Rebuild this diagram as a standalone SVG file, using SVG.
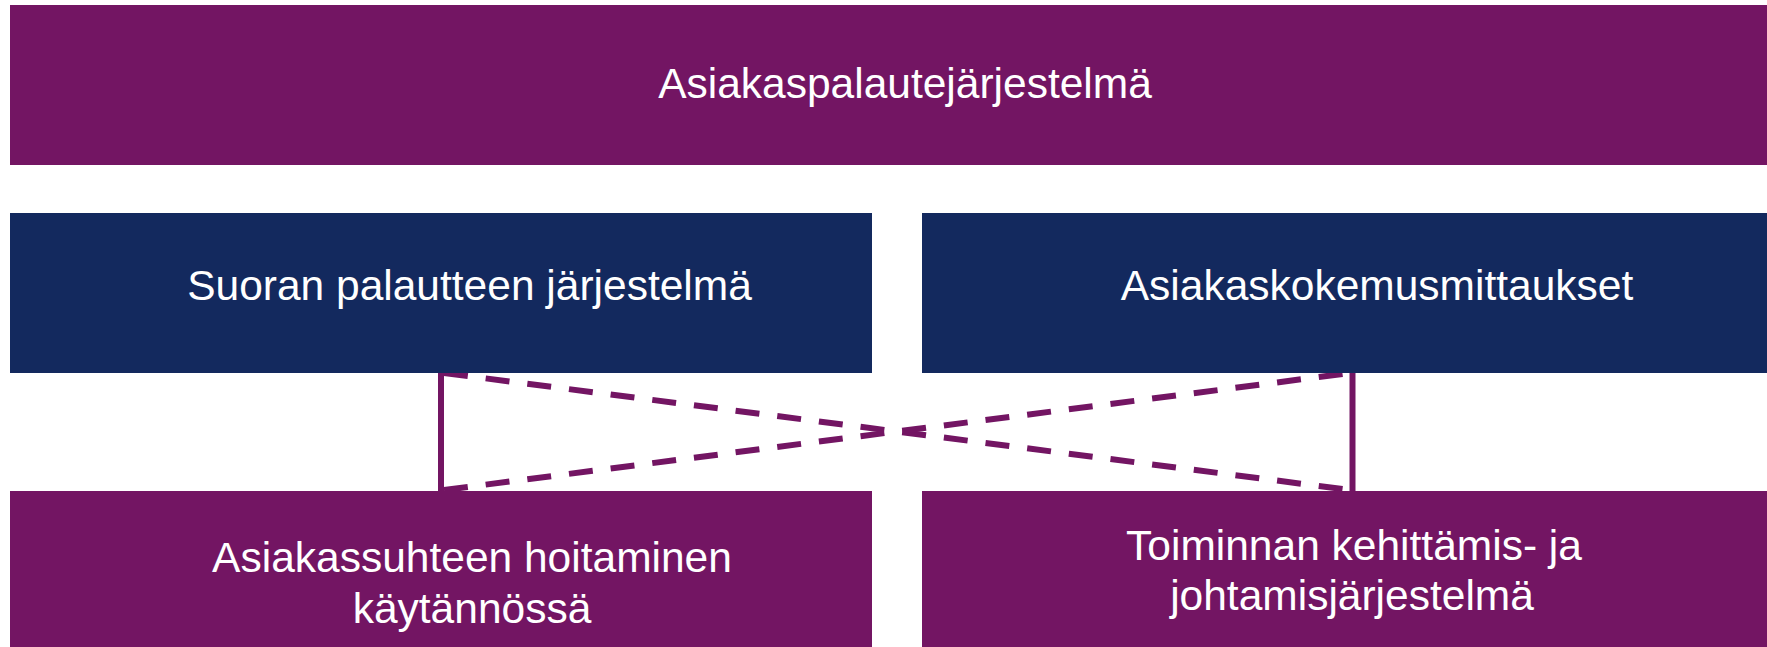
<svg xmlns="http://www.w3.org/2000/svg" width="1767" height="647" viewBox="0 0 1767 647">
<style>
.p{fill:#731563}
.n{fill:#13295E}
.t{fill:#ffffff;font-family:"Liberation Sans",Arial,sans-serif;font-size:42.5px;text-anchor:middle}
.c{stroke:#731563;stroke-width:6;fill:none}
.d{stroke-dasharray:24 18}
</style>
<rect width="1767" height="647" fill="#ffffff"/>
<g id="connectors">
<line class="c" x1="441" y1="373" x2="441" y2="491"/>
<line class="c" x1="1352.5" y1="373" x2="1352.5" y2="491"/>
<line class="c d" x1="444" y1="373" x2="1350" y2="490"/>
<line class="c d" x1="444" y1="490" x2="1350" y2="373"/>
</g>
<g id="node-top">
<rect class="p" x="10" y="5" width="1757" height="160"/>
<text class="t" x="905" y="98">Asiakaspalautejärjestelmä</text>
</g>
<g id="node-suora">
<rect class="n" x="10" y="213" width="862" height="160"/>
<text class="t" x="469.5" y="300">Suoran palautteen järjestelmä</text>
</g>
<g id="node-kokemus">
<rect class="n" x="922" y="213" width="845" height="160"/>
<text class="t" x="1377" y="300">Asiakaskokemusmittaukset</text>
</g>
<g id="node-asiakassuhde">
<rect class="p" x="10" y="491" width="862" height="156"/>
<text class="t" x="472" y="572">Asiakassuhteen hoitaminen</text>
<text class="t" x="472" y="623">käytännössä</text>
</g>
<g id="node-toiminta">
<rect class="p" x="922" y="491" width="845" height="156"/>
<text class="t" x="1354" y="560">Toiminnan kehittämis- ja</text>
<text class="t" x="1352" y="610">johtamisjärjestelmä</text>
</g>
</svg>
